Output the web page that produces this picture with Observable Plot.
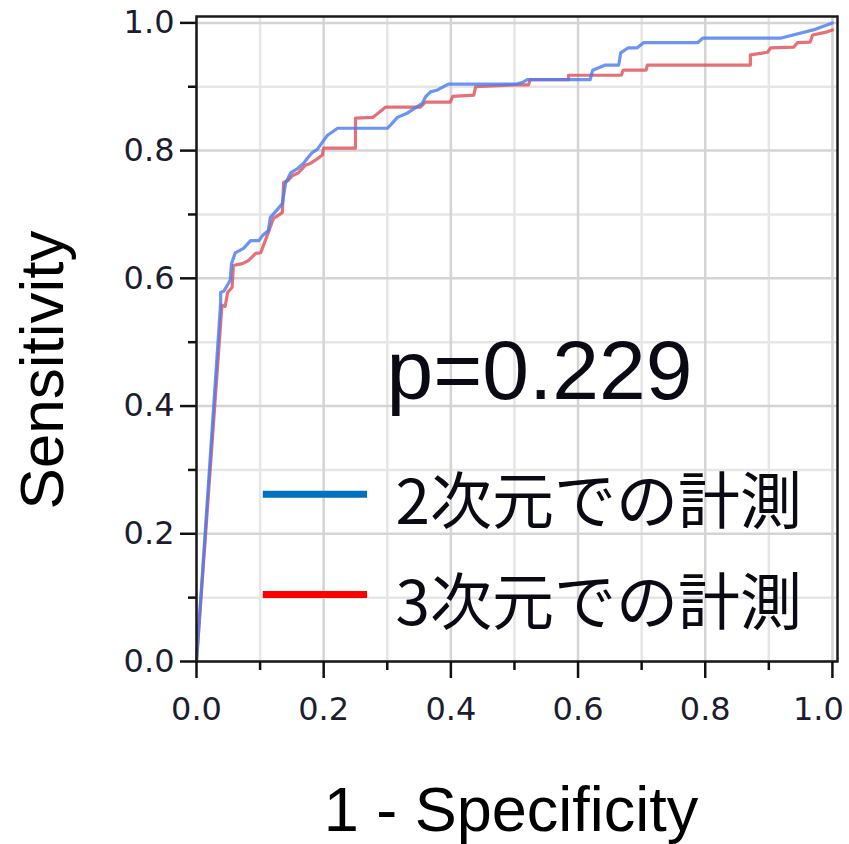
<!DOCTYPE html>
<html><head><meta charset="utf-8">
<script src="https://cdn.jsdelivr.net/npm/d3@7"></script>
<script src="https://cdn.jsdelivr.net/npm/@observablehq/plot@0.6"></script>
<style>html,body{margin:0;padding:0;background:#fff}#chart svg{display:block}</style>
</head><body><div id="chart"></div>
<script>
// ROC curve values
const fpr2D = [0,0.038,0.038,0.043,0.049,0.053,0.055,0.061,0.074,0.085,0.098,0.104,0.113,0.116,0.129,0.135,0.140,0.148,0.159,0.168,0.176,0.182,0.190,0.200,0.206,0.222,0.300,0.305,0.316,0.332,0.344,0.355,0.360,0.368,0.379,0.396,0.502,0.513,0.520,0.619,0.623,0.643,0.664,0.667,0.679,0.693,0.703,0.788,0.796,0.918,0.970,1.0];
const tpr2D = [0,0.562,0.578,0.580,0.590,0.597,0.623,0.640,0.647,0.659,0.659,0.667,0.675,0.695,0.710,0.717,0.749,0.765,0.772,0.780,0.790,0.797,0.802,0.816,0.824,0.835,0.835,0.840,0.852,0.859,0.867,0.874,0.884,0.892,0.895,0.904,0.904,0.907,0.911,0.911,0.926,0.934,0.934,0.953,0.961,0.961,0.969,0.969,0.976,0.976,0.989,1.0];
const fpr3D = [0,0.040,0.045,0.049,0.056,0.058,0.072,0.082,0.093,0.101,0.104,0.113,0.121,0.129,0.135,0.137,0.145,0.151,0.160,0.171,0.179,0.187,0.198,0.200,0.250,0.250,0.277,0.286,0.297,0.352,0.360,0.399,0.403,0.436,0.439,0.505,0.522,0.525,0.585,0.585,0.668,0.671,0.707,0.709,0.871,0.871,0.898,0.903,0.939,0.945,0.965,0.969,0.992,1.0];
const tpr3D = [0,0.558,0.556,0.578,0.586,0.620,0.623,0.628,0.639,0.640,0.648,0.672,0.694,0.699,0.703,0.750,0.754,0.761,0.765,0.777,0.780,0.785,0.793,0.804,0.804,0.851,0.852,0.859,0.868,0.868,0.876,0.876,0.885,0.887,0.900,0.903,0.903,0.911,0.911,0.918,0.918,0.926,0.926,0.934,0.934,0.950,0.954,0.961,0.962,0.969,0.970,0.981,0.986,0.989];
const seriesNames = ["2次元での計測", "3次元での計測"];
const majorTicks = [0, 0.2, 0.4, 0.6, 0.8, 1.0];
const minorTicks = [0.1, 0.3, 0.5, 0.7, 0.9];
const xTitle = "1 - Specificity";
const yTitle = "Sensitivity";
const pLabel = "p=0.229";

// layout (legend placement in data units of the frame)
const legendRows = [
  {name: seriesNames[0], color: "#0070C0", x1: 0.105, x2: 0.269, y: 0.262, ty: 0.246, tx: 0.313},
  {name: seriesNames[1], color: "#FF0000", x1: 0.105, x2: 0.269, y: 0.105, ty: 0.088, tx: 0.313}
];

const rows = [
  ...fpr3D.map((x, i) => ({x, y: tpr3D[i], s: seriesNames[1]})),
  ...fpr2D.map((x, i) => ({x, y: tpr2D[i], s: seriesNames[0]}))
];
const fmt = d3.format(".1f");
const tickColor = "#1c1c2e";
const lastTick = majorTicks[majorTicks.length - 1];

const chart = Plot.plot({
  width: 849, height: 844,
  marginLeft: 196, marginRight: 12, marginTop: 16, marginBottom: 183,
  x: {domain: [0, 1.008]},
  y: {domain: [0, 1.01]},
  color: {domain: seriesNames, range: ["#4a7cf0", "#e0505a"]},
  style: {fontFamily: "DejaVu Sans", background: "#fff"},
  marks: [
    Plot.gridX(minorTicks, {stroke: "#e6e6e6", strokeOpacity: 1, strokeWidth: 2.5}),
    Plot.gridY(minorTicks, {stroke: "#e6e6e6", strokeOpacity: 1, strokeWidth: 2.5}),
    Plot.gridX(majorTicks, {stroke: "#d4d4d4", strokeOpacity: 1, strokeWidth: 2.5}),
    Plot.gridY(majorTicks, {stroke: "#d4d4d4", strokeOpacity: 1, strokeWidth: 2.5}),
    Plot.line(rows, {x: "x", y: "y", z: "s", stroke: "s", strokeWidth: 3.2, strokeOpacity: 0.82}),
    Plot.frame({stroke: "#1a1a1a", strokeWidth: 2.5}),
    Plot.axisX(majorTicks, {tickSize: 17, tickPadding: 19, fontSize: 32, tickFormat: d => d === lastTick ? "" : fmt(d), label: null, stroke: "#111", strokeWidth: 2.5, fill: tickColor}),
    Plot.axisX([lastTick], {tickSize: 0, tickPadding: 36, dx: -14, fontSize: 32, tickFormat: fmt, label: null, fill: tickColor}),
    Plot.axisX(minorTicks, {tickSize: 9, tickFormat: () => "", label: null, stroke: "#111", strokeWidth: 2.5}),
    Plot.axisY(majorTicks, {tickSize: 16, tickPadding: 6, fontSize: 32, tickFormat: fmt, label: null, stroke: "#111", strokeWidth: 2.5, fill: tickColor}),
    Plot.axisY(minorTicks, {tickSize: 8, tickFormat: () => "", label: null, stroke: "#111", strokeWidth: 2.5}),
    Plot.text([yTitle], {frameAnchor: "left", dx: -153, dy: 31, rotate: -90, fontSize: 62, fontFamily: "Liberation Sans", fill: "#000", lineAnchor: "middle", textAnchor: "middle"}),
    Plot.text([xTitle], {frameAnchor: "bottom", dx: -6, dy: 149, fontSize: 63, fontFamily: "Liberation Sans", fill: "#000", lineAnchor: "middle", textAnchor: "middle"}),
    Plot.text([pLabel], {frameAnchor: "top-left", dx: 190, dy: 356, fontSize: 84, fontFamily: "Liberation Sans", fill: "#0a0a14", lineAnchor: "middle", textAnchor: "start"}),
    Plot.ruleY(legendRows, {y: "y", x1: "x1", x2: "x2", stroke: "color", strokeWidth: 7}),
    Plot.text(legendRows, {x: "tx", y: "ty", text: "name", fontSize: 62, fontFamily: "Noto Sans CJK JP", fill: "#0a0a14", textAnchor: "start", lineAnchor: "middle"})
  ]
});
document.getElementById("chart").appendChild(chart);
</script>
</body></html>
